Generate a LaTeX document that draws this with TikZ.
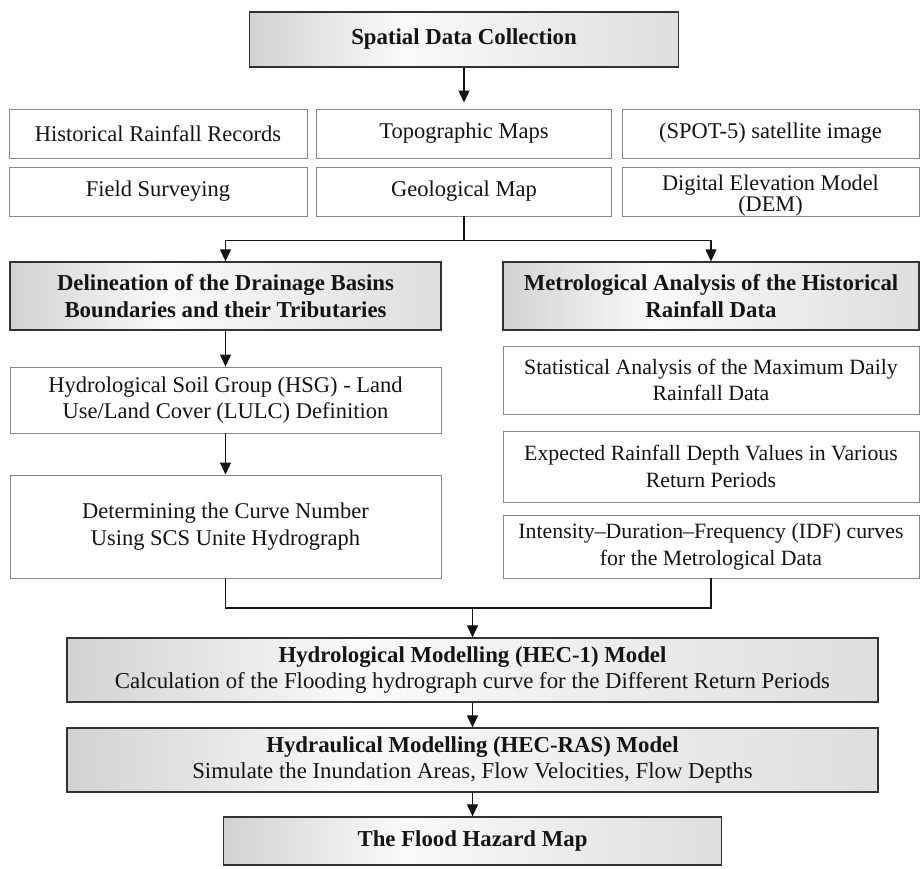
\documentclass[tikz,border=0pt]{standalone}
\usepackage{fontspec}
\setmainfont{Liberation Serif}
\usetikzlibrary{arrows.meta}

\definecolor{shadeL}{RGB}{210,210,210}
\definecolor{shadeM}{RGB}{250,250,250}
\definecolor{shadeR}{RGB}{222,222,222}
\definecolor{frameD}{RGB}{50,50,50}
\definecolor{frameL}{RGB}{135,135,135}
\definecolor{ink}{RGB}{20,20,20}

% light-to-dark horizontal fill of the main process boxes
\pgfdeclarehorizontalshading{panelshade}{100bp}{color(0bp)=(shadeL); color(25bp)=(shadeL); color(43bp)=(shadeM); color(75bp)=(shadeR); color(100bp)=(shadeR)}

\begin{document}
\begin{tikzpicture}[x=1pt,y=-1pt,
  every node/.style={font=\fontsize{22.5}{26.7}\selectfont, text=ink, inner sep=0pt, align=center},
  panel/.style={draw=frameD, line width=1.3pt, shading=panelshade, font=\fontsize{22.8}{26.7}\selectfont\bfseries},
  plain/.style={draw=frameL, line width=0.9pt, fill=white},
  link/.style={draw=ink, line width=1.2pt},
  flow/.style={link, -{Triangle[length=12pt,width=11pt]}}]

\useasboundingbox[fill=white] (0,0) rectangle (921,868);

% data collection
\node[panel, minimum width=429pt, minimum height=55pt] (collect) at (464,39.5) {Spatial Data Collection};

% data sources
\node[plain, minimum width=298pt, minimum height=49pt] (rain)  at (158,133.5) {Historical Rainfall Records};
\node[plain, minimum width=295pt, minimum height=49pt] (topo)  at (464,133.5) {Topographic Maps};
\node[plain, minimum width=297pt, minimum height=49pt] (spot)  at (770.5,133.5) {(SPOT-5) satellite image};
\node[plain, minimum width=298pt, minimum height=49pt] (field) at (158,191.5) {Field Surveying};
\node[plain, minimum width=295pt, minimum height=49pt] (geo)   at (464,191.5) {Geological Map};
\node[plain, minimum width=297pt, minimum height=49pt] (dem) at (770.5,191.5) {};
\node[font=\fontsize{22.3}{20.5}\selectfont] (demtext) at ([yshift=-4pt]dem.center) {Digital Elevation Model\\(DEM)};

% two analysis branches
\node[panel, minimum width=431pt, minimum height=68pt] (basin) at (225.5,296) {Delineation of the Drainage Basins\\Boundaries and their Tributaries};
\node[panel, minimum width=416pt, minimum height=68pt] (meteo) at (711,296) {Metrological Analysis of the Historical\\Rainfall Data};

\node[plain, minimum width=431pt, minimum height=66pt] (hsg) at (225.5,400) {Hydrological Soil Group (HSG) - Land\\Use/Land Cover (LULC) Definition};
\node[plain, minimum width=431pt, minimum height=103pt] (cn) at (225.5,526.5) {Determining the Curve Number\\Using SCS Unite Hydrograph};

\node[plain, minimum width=416pt, minimum height=68pt, font=\fontsize{21.8}{26.7}\selectfont] (stat) at (711,380) {Statistical Analysis of the Maximum Daily\\Rainfall Data};
\node[plain, minimum width=416pt, minimum height=71pt, font=\fontsize{21.8}{26.7}\selectfont] (depth) at (711,466.5) {Expected Rainfall Depth Values in Various\\Return Periods};
\node[plain, minimum width=416pt, minimum height=63pt, font=\fontsize{21.8}{26.7}\selectfont] (idf) at (711,546.5) {Intensity--Duration--Frequency (IDF) curves\\for the Metrological Data};

% modelling chain
\node[panel, minimum width=811pt, minimum height=64pt] (hec1) at (472.5,670) {Hydrological Modelling (HEC-1) Model\\\mdseries Calculation of the Flooding hydrograph curve for the Different Return Periods};
\node[panel, minimum width=811pt, minimum height=64pt] (hecras) at (472.5,760) {Hydraulical Modelling (HEC-RAS) Model\\\mdseries Simulate the Inundation Areas, Flow Velocities, Flow Depths};
\node[panel, minimum width=498pt, minimum height=48pt] (hazard) at (472.5,841) {The Flood Hazard Map};

% connectors
\draw[flow] (collect.south) -- ([yshift=6pt]topo.north);
\draw[link] (geo.south) -- ++(0,24) coordinate (split);
\draw[flow] (split) -| (basin.north);
\draw[flow] (split) -| (meteo.north);
\draw[flow] (basin.south) -- (hsg.north);
\draw[flow] (hsg.south) -- (cn.north);
\coordinate (merge) at (472.5,608);
\draw[link] (cn.south) |- (merge) -| (idf.south);
\draw[flow] (merge) -- (hec1.north);
\draw[flow] (hec1.south) -- (hecras.north);
\draw[flow] (hecras.south) -- (hazard.north);
\end{tikzpicture}
\end{document}
